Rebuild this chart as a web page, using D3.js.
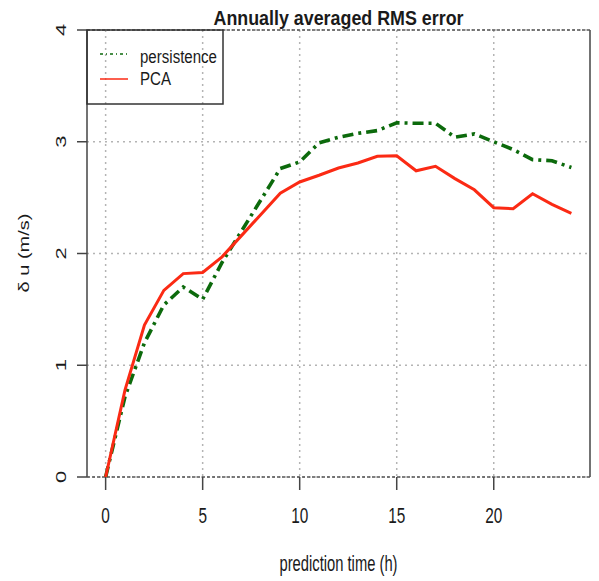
<!DOCTYPE html>
<html><head><meta charset="utf-8">
<script src="https://cdn.jsdelivr.net/npm/d3@7"></script>
<style>body{margin:0;background:#fff}svg{display:block}text{font-family:"Liberation Sans",Arial,sans-serif;fill:#1a1a1a}</style>
</head><body>
<script>
const hours = d3.range(0, 25);
const persistence = [0, 0.72, 1.2, 1.54, 1.70, 1.59, 1.92, 2.20, 2.48, 2.76, 2.82, 2.99, 3.04, 3.075, 3.10, 3.17, 3.165, 3.165, 3.04, 3.07, 3.0, 2.93, 2.84, 2.83, 2.77];
const pca = [0, 0.78, 1.36, 1.67, 1.82, 1.83, 1.97, 2.16, 2.35, 2.54, 2.64, 2.70, 2.765, 2.81, 2.87, 2.875, 2.74, 2.78, 2.67, 2.57, 2.41, 2.40, 2.535, 2.44, 2.36];
const xTicks = [0, 5, 10, 15, 20];
const yTicks = [0, 1, 2, 3, 4];
const title = "Annually averaged RMS error";
const xLabel = "prediction time (h)";
const yLabel = "δ u (m/s)";
const seriesNames = ["persistence", "PCA"];

const W = 599, H = 581;
const L = 87, R = 590, T = 30, B = 477;
const sx = 0.7;
const svg = d3.select("body").append("svg").attr("width", W).attr("height", H);
const x = d3.scaleLinear().domain([-0.96, 24.96]).range([L, R]);
const y = d3.scaleLinear().domain([0, 4]).range([B, T]);

// grid
const g = svg.append("g");
g.selectAll("line.vx").data(xTicks).join("line")
  .attr("x1", d => x(d)).attr("x2", d => x(d)).attr("y1", T).attr("y2", B)
  .attr("stroke", "#b4b4b4").attr("stroke-width", 1.5).attr("stroke-dasharray", "2,4");
g.selectAll("line.hy").data(yTicks).join("line")
  .attr("y1", d => y(d)).attr("y2", d => y(d)).attr("x1", L).attr("x2", R)
  .attr("stroke", "#b4b4b4").attr("stroke-width", 1.5).attr("stroke-dasharray", "2,4");

// box
svg.append("line").attr("x1", L).attr("x2", L).attr("y1", T).attr("y2", B).attr("stroke", "#444").attr("stroke-width", 1.5);
svg.append("line").attr("x1", R).attr("x2", R).attr("y1", T).attr("y2", B).attr("stroke", "#444").attr("stroke-width", 1.5);
svg.append("line").attr("x1", L).attr("x2", R).attr("y1", T).attr("y2", T).attr("stroke", "#555").attr("stroke-width", 1.3).attr("stroke-dasharray", "3,2");
svg.append("line").attr("x1", L).attr("x2", R).attr("y1", B).attr("y2", B).attr("stroke", "#555").attr("stroke-width", 1.3).attr("stroke-dasharray", "3,2");

// axes ticks
const xa = svg.append("g");
xa.selectAll("line").data(xTicks).join("line")
  .attr("x1", d => x(d)).attr("x2", d => x(d)).attr("y1", B).attr("y2", B + 13)
  .attr("stroke", "#444").attr("stroke-width", 1.5);
xa.selectAll("text").data(xTicks).join("text")
  .attr("transform", d => `translate(${x(d)},${B + 46}) scale(${sx},1)`)
  .attr("text-anchor", "middle").attr("font-size", 22).text(d => d);
const ya = svg.append("g");
ya.selectAll("line").data(yTicks).join("line")
  .attr("y1", d => y(d)).attr("y2", d => y(d)).attr("x1", L - 10).attr("x2", L)
  .attr("stroke", "#444").attr("stroke-width", 1.5);
ya.selectAll("text").data(yTicks).join("text")
  .attr("transform", d => `translate(65.5,${y(d)}) scale(${sx},1) rotate(-90)`)
  .attr("text-anchor", "middle").attr("font-size", 22).text(d => d);

// lines
const line = d3.line().x((d, i) => x(hours[i])).y(d => y(d));
svg.append("path").datum(persistence).attr("d", line).attr("fill", "none")
  .attr("stroke", "#0c6a0c").attr("stroke-width", 3.6).attr("stroke-dasharray", "11,5,3,5");
svg.append("path").datum(pca).attr("d", line).attr("fill", "none")
  .attr("stroke", "#fb2a14").attr("stroke-width", 3);

// legend
svg.append("rect").attr("x", L).attr("y", T).attr("width", 136).attr("height", 74)
  .attr("fill", "none").attr("stroke", "#333").attr("stroke-width", 1.5);
svg.append("line").attr("x1", 100).attr("x2", 128).attr("y1", 54).attr("y2", 54)
  .attr("stroke", "#0c6a0c").attr("stroke-width", 1.5).attr("stroke-dasharray", "3,3,1,3");
svg.append("line").attr("x1", 100).attr("x2", 128).attr("y1", 79).attr("y2", 79)
  .attr("stroke", "#fb2a14").attr("stroke-width", 1.5);
svg.append("text").attr("x", 140).attr("y", 63).attr("font-size", 18)
  .attr("textLength", 77).attr("lengthAdjust", "spacingAndGlyphs").text(seriesNames[0]);
svg.append("text").attr("x", 140).attr("y", 85).attr("font-size", 19)
  .attr("textLength", 31).attr("lengthAdjust", "spacingAndGlyphs").text(seriesNames[1]);

// titles
svg.append("text").attr("x", 338.5 - 125).attr("y", 25).attr("font-size", 21).attr("font-weight", "bold")
  .attr("textLength", 250).attr("lengthAdjust", "spacingAndGlyphs").text(title);
svg.append("text").attr("x", 338.5 - 59).attr("y", 571).attr("font-size", 22)
  .attr("textLength", 118).attr("lengthAdjust", "spacingAndGlyphs").text(xLabel);
svg.append("text").attr("transform", `translate(29,253) scale(${sx},1) rotate(-90)`)
  .attr("text-anchor", "middle").attr("font-size", 20).text(yLabel);
</script>
</body></html>
